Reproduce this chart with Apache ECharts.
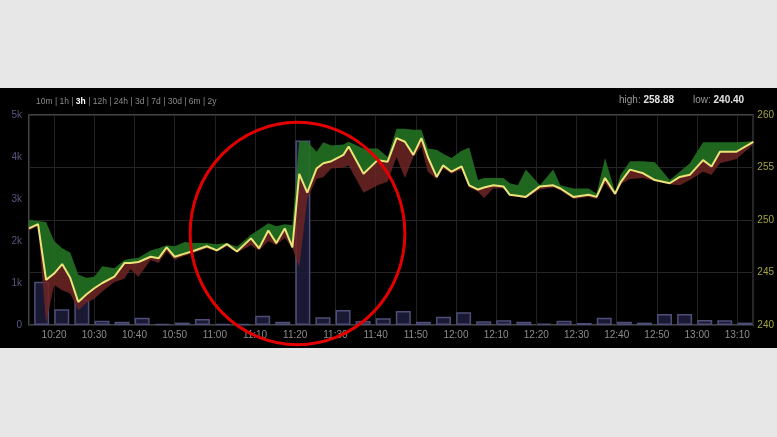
<!DOCTYPE html>
<html>
<head>
<meta charset="utf-8">
<script src="https://cdn.jsdelivr.net/npm/echarts@6/dist/echarts.min.js"></script>
<style>
html,body{margin:0;padding:0;background:#e7e7e7;}
#chart{width:777px;height:437px;}
</style>
</head>
<body>
<div id="chart"></div>
<script>
// ---- data ----
// price vertices: minutes since midnight
const priceTimes = [613.75,616,618,620,622,624,626,628,630,632,635,637.5,639,641,644,646,648,650,652.5,655,
  658,660.5,663,665.5,669,671,673.3,675.3,677.4,679.3,681,683,685.3,687,689,692,693.3,697,700.5,703,
  705.2,707.3,709.4,711.4,713,715.2,716.8,718.9,721.4,723.3,725.5,727,729.3,731.8,733.4,735.4,737.4,740.9,744.2,746,
  749.2,753,755,757.1,759.6,761,763.3,766.6,769.5,773.2,775.7,778.2,781.5,783.6,785.7,789.8,794];
const priceHigh = [250.0,249.9,249.8,248.0,247.3,246.9,244.8,244.5,244.6,245.6,245.4,246.2,246.3,246.4,247.1,247.3,247.6,247.5,247.9,247.8,
  247.8,247.7,247.8,247.45,248.6,249.1,249.7,249.4,249.6,249.5,257.5,257.5,256.5,257.4,257.1,257.2,257.45,256.8,256.8,256.0,
  258.7,258.7,258.6,258.6,256.8,256.7,256.3,255.9,256.6,256.9,253.8,254.0,254.0,254.0,253.5,253.3,254.8,253.3,254.8,253.3,
  253.0,253.0,252.5,255.9,252.7,254.3,255.6,255.6,255.5,253.8,254.6,255.4,257.4,257.4,257.4,257.4,257.5];
const priceClose = [249.2,249.6,244.3,244.9,245.8,244.5,242.2,242.9,243.5,244.0,244.6,245.9,245.9,246.0,246.5,246.35,247.4,246.5,246.8,247.1,
  247.5,247.1,247.7,247.0,248.25,247.3,249.0,247.8,249.2,247.4,254.4,252.6,254.9,255.4,255.6,256.2,257.0,254.4,255.7,255.55,
  257.8,257.45,256.2,257.8,256.0,254.1,255.2,254.6,255.1,253.3,252.9,253.1,253.3,253.2,252.4,252.3,252.2,253.2,253.3,253.0,
  252.2,252.4,252.2,254.0,252.5,253.6,254.8,254.45,253.8,253.5,254.1,254.3,255.7,255.1,256.5,256.5,257.45];
const priceLow = [249.0,249.4,240.2,243.8,243.3,243.0,241.4,242.1,242.5,243.2,244.1,244.4,245.3,244.6,246.2,245.9,247.0,246.2,246.6,246.9,
  247.3,247.0,247.5,246.9,247.6,247.1,248.0,247.6,248.3,247.3,245.5,252.0,253.9,254.1,254.9,255.0,255.2,252.6,253.3,253.65,
  256.0,254.0,256.0,257.0,254.6,253.9,254.9,254.4,254.8,253.1,252.7,252.1,253.0,253.0,252.3,252.2,252.1,252.9,253.1,252.8,
  252.0,252.2,252.0,253.5,252.3,253.4,253.9,254.0,253.7,253.4,253.3,253.8,254.6,254.3,255.4,255.8,257.2];

// 5-minute volume buckets (start time)
const volumeTimes = ['10:15','10:20','10:25','10:30','10:35','10:40','10:45','10:50','10:55','11:00','11:05','11:10',
  '11:15','11:20','11:25','11:30','11:35','11:40','11:45','11:50','11:55','12:00','12:05','12:10',
  '12:15','12:20','12:25','12:30','12:35','12:40','12:45','12:50','12:55','13:00','13:05','13:10'];
const volumes = [1030,373,612,102,80,175,24,56,143,24,20,222,
  80,4390,183,357,95,159,333,80,198,302,87,111,
  80,32,103,48,175,80,56,262,262,119,111,56];

const volumeTicks = ['0','1k','2k','3k','4k','5k'];
const periodLinks = ['10m','1h','3h','12h','24h','3d','7d','30d','6m','2y'];
const activePeriod = '3h';
const highText = '258.88';
const lowText = '240.40';

// ---- build ----
function toMin(s){const p=s.split(':');return (+p[0])*60+(+p[1]);}
function fmt(m){const h=Math.floor(m/60), mm=Math.round(m-h*60);return h+':'+(mm<10?'0':'')+mm;}

const closeData = priceTimes.map((t,i)=>[t, priceClose[i]]);
const volData = volumeTimes.map((s,i)=>[toMin(s)+1.9, volumes[i]]);

function bandSeries(lowerArr, upperArr, color, opacity){
  return {
    type:'custom', yAxisIndex:1, silent:true, clip:true, z:3,
    data: priceTimes.map((t,i)=>[t, upperArr[i]]),
    encode:{x:0,y:1},
    renderItem:function(params, api){
      if(params.dataIndex!==0) return null;
      const pts=[];
      for(let i=0;i<priceTimes.length;i++) pts.push(api.coord([priceTimes[i], upperArr[i]]));
      for(let i=priceTimes.length-1;i>=0;i--) pts.push(api.coord([priceTimes[i], lowerArr[i]]));
      return {type:'polygon', shape:{points:pts}, style:{fill:color, opacity:opacity}};
    }
  };
}

let periodRich = '';
periodLinks.forEach((p,i)=>{
  if(i>0) periodRich += '{a| | }';
  periodRich += (p===activePeriod) ? '{b|'+p+'}' : '{a|'+p+'}';
});

const chart = echarts.init(document.getElementById('chart'), null, {renderer:'canvas'});
chart.setOption({
  backgroundColor:'#e7e7e7',
  animation:false,
  grid:{left:29,right:23,top:115,bottom:112,show:true,borderColor:'#5a5a5a',borderWidth:1.5,backgroundColor:'transparent'},
  xAxis:{
    type:'value', min:613.75, max:794, splitNumber:18,
    axisLine:{show:false}, axisTick:{show:false},
    axisLabel:{color:'#8c8c8c',fontSize:10,fontFamily:'Liberation Sans',margin:5,showMinLabel:false,showMaxLabel:false,
      formatter:v=>fmt(v)},
    splitLine:{show:true,lineStyle:{color:'#222',width:1}}
  },
  yAxis:[
    {type:'value',min:0,max:5000,interval:1000,position:'left',
     axisLine:{show:false},axisTick:{show:false},splitLine:{show:false},
     axisLabel:{color:'#56567f',fontSize:10,fontFamily:'Liberation Sans',margin:7,
       formatter:v=>volumeTicks[Math.round(v/1000)]}},
    {type:'value',min:240,max:260,interval:5,position:'right',
     axisLine:{show:false},axisTick:{show:false},
     splitLine:{show:true,lineStyle:{color:'#262626',width:1}},
     axisLabel:{color:'#a3a340',fontSize:10,fontFamily:'Liberation Sans',margin:4}}
  ],
  series:[
    {type:'bar',yAxisIndex:0,data:volData,barWidth:15,z:1,
     itemStyle:{color:'rgba(28,28,58,0.9)',borderColor:'#4e4e78',borderWidth:1.5},silent:true},
    bandSeries(priceLow, priceClose, '#6e2424', 0.85),
    bandSeries(priceClose, priceHigh, '#227222', 0.9),
    {type:'line',yAxisIndex:1,data:closeData,symbol:'none',z:4,
     lineStyle:{color:'#ece47a',width:2},silent:true}
  ],
  graphic:[
    {type:'rect',z:-10,shape:{x:0,y:88,width:777,height:260},style:{fill:'#000'}},
    {type:'text',left:36,top:97,z:10,style:{text:periodRich,
      rich:{a:{fill:'#8a8a8a',fontSize:8.5,fontFamily:'Liberation Sans'},
            b:{fill:'#ffffff',fontSize:8.5,fontWeight:'bold',fontFamily:'Liberation Sans'}}}},
    {type:'text',left:619,top:95,z:10,style:{text:'{a|high: }{b|'+highText+'}',
      rich:{a:{fill:'#9a9a9a',fontSize:10,fontFamily:'Liberation Sans'},
            b:{fill:'#e2e2e2',fontSize:10,fontWeight:'bold',fontFamily:'Liberation Sans'}}}},
    {type:'text',left:693,top:95,z:10,style:{text:'{a|low: }{b|'+lowText+'}',
      rich:{a:{fill:'#9a9a9a',fontSize:10,fontFamily:'Liberation Sans'},
            b:{fill:'#e2e2e2',fontSize:10,fontWeight:'bold',fontFamily:'Liberation Sans'}}}},
    {type:'circle',z:100,x:297.5,y:233.5,scaleX:0.985,scaleY:1.02,
     shape:{cx:0,cy:0,r:109},style:{fill:'none',stroke:'#e50000',lineWidth:3}}
  ]
});
</script>
</body>
</html>
